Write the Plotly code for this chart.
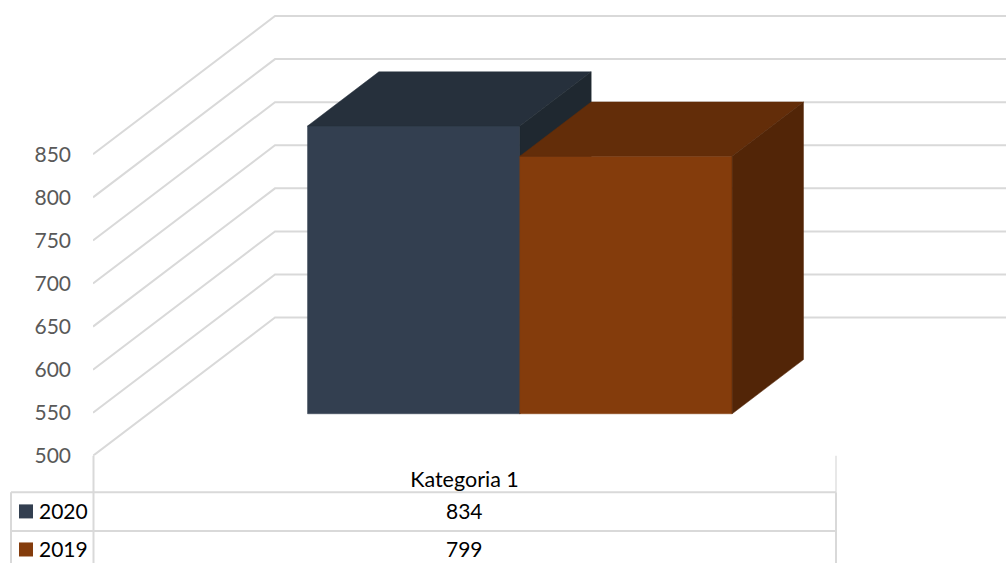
import plotly.graph_objects as go

# --- data ---
categories = ["Kategoria 1"]
series_names = ["2020", "2019"]
values_2020 = [834]
values_2019 = [799]
y_ticks = [500, 550, 600, 650, 700, 750, 800, 850]

# --- styles ---
front_colors = ["#333F50", "#843C0C"]
top_colors = ["#26303C", "#632D09"]
side_colors = ["#1F2830", "#522507"]
GRID = "#D9D9D9"
FONT = "Lato"
W, H = 1006, 563
LAYOUT_H = 575

# --- oblique projection set-up (axis units) ---
PX_X0, PX_CAT, PX_Y0, PX_PER_UNIT = 93, 743, 455, 0.86
DEPTH_X = 182 / PX_CAT
DEPTH_Y = 138 / PX_PER_UNIT
D_FRONT, D_BACK = 0.304, 0.696
GAP = 1.5


def proj(x, v, d):
    return x + d * DEPTH_X, v + d * DEPTH_Y


def poly(points, color, name, value):
    xs, ys = zip(*points)
    return go.Scatter(
        x=list(xs) + [xs[0]], y=list(ys) + [ys[0]], mode="lines", fill="toself",
        fillcolor=color, line=dict(color=color, width=0.5), showlegend=False,
        name=name, hoverinfo="text", text=f"{name}: {value}",
    )


fig = go.Figure()

# walls: gridlines run from the front-left edge to the back wall
x_end = (W - PX_X0) / PX_CAT
for v in y_ticks:
    p0 = proj(0, v, 0)
    p1 = proj(0, v, 1)
    fig.add_trace(go.Scatter(
        x=[p0[0], p1[0], x_end], y=[p0[1], p1[1], p1[1]], mode="lines",
        line=dict(color=GRID, width=2), showlegend=False, hoverinfo="skip",
    ))

# columns
bar_w = 1 / (len(series_names) + GAP)
base = y_ticks[0]
all_values = [values_2020, values_2019]
for i, (name, vals) in enumerate(zip(series_names, all_values)):
    for c, v in enumerate(vals):
        x0 = c + GAP / 2 * bar_w + i * bar_w
        x1 = x0 + bar_w
        fig.add_trace(poly([proj(x0, base, D_FRONT), proj(x1, base, D_FRONT),
                            proj(x1, v, D_FRONT), proj(x0, v, D_FRONT)],
                           front_colors[i], name, v))
        fig.add_trace(poly([proj(x0, v, D_FRONT), proj(x1, v, D_FRONT),
                            proj(x1, v, D_BACK), proj(x0, v, D_BACK)],
                           top_colors[i], name, v))
        fig.add_trace(poly([proj(x1, base, D_FRONT), proj(x1, base, D_BACK),
                            proj(x1, v, D_BACK), proj(x1, v, D_FRONT)],
                           side_colors[i], name, v))


def px(x):
    return x / W


def py(y):
    return 1 - y / H


def line(x0, y0, x1, y1, width=2):
    return dict(type="line", xref="paper", yref="paper", x0=px(x0), y0=py(y0),
                x1=px(x1), y1=py(y1), line=dict(color=GRID, width=width))


# data table
shapes = [
    line(11, 491.5, 836, 491.5), line(11, 530, 836, 530),
    line(11, 491.5, 11, H), line(93.5, 455, 93.5, H), line(836, 455, 836, 491.5, 1.2),
    line(836, 491.5, 836, H),
]
annotations = []
swatch_y = [510.5, 548.5]
text_y = [509.5, 547.5]
for i, name in enumerate(series_names):
    shapes.append(dict(type="rect", xref="paper", yref="paper",
                       x0=px(19), x1=px(33), y0=py(swatch_y[i] - 7), y1=py(swatch_y[i] + 7),
                       fillcolor=front_colors[i], line=dict(width=0)))
    annotations.append(dict(text=name, xref="paper", yref="paper", x=px(37), y=py(text_y[i]),
                            xanchor="left", yanchor="middle", showarrow=False,
                            font=dict(family=FONT, size=21, color="#000000")))
    annotations.append(dict(text=str(all_values[i][0]), xref="x", yref="paper", x=0.5, y=py(text_y[i]),
                            xanchor="center", yanchor="middle", showarrow=False,
                            font=dict(family=FONT, size=21, color="#000000")))

fig.update_layout(
    width=W, height=LAYOUT_H, autosize=False,
    margin=dict(l=0, r=0, t=0, b=0, pad=0),
    paper_bgcolor="white", plot_bgcolor="white",
    showlegend=False, shapes=shapes, annotations=annotations,
    font=dict(family=FONT),
    xaxis=dict(domain=[PX_X0 / W, 1], range=[0, x_end], showgrid=False, zeroline=False,
               showline=False, ticks="", tickvals=[0.5], ticktext=categories,
               ticklabelstandoff=9, tickfont=dict(family=FONT, size=21.5, color="#000000")),
    yaxis=dict(domain=[(H - PX_Y0) / H, 1], range=[base, base + PX_Y0 / PX_PER_UNIT],
               showgrid=False, zeroline=False, showline=False, ticks="",
               tickvals=y_ticks, ticklabelstandoff=21,
               tickfont=dict(family=FONT, size=21, color="#595959")),
)

fig.write_html(
    "out.html",
    config=dict(displayModeBar=False),
    post_script="document.documentElement.style.overflow='hidden';document.body.style.margin='0';document.body.style.overflow='hidden';",
)
